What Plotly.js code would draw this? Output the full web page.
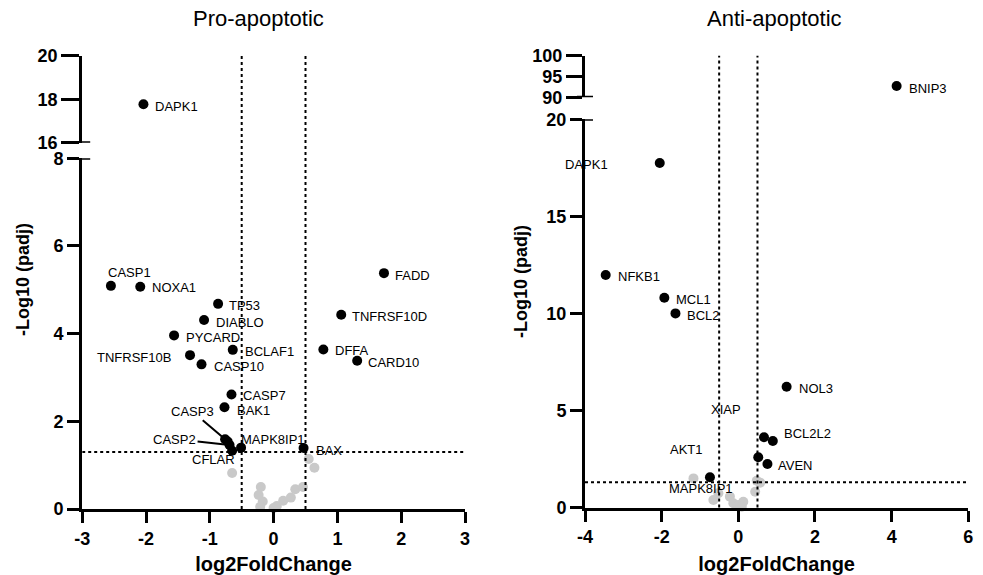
<!DOCTYPE html>
<html>
<head>
<meta charset="utf-8">
<script src="https://cdn.plot.ly/plotly-3.0.1.min.js"></script>
<style>html,body{margin:0;padding:0;background:#fff;}#chart{width:983px;height:575px;}</style>
</head>
<body>
<div id="chart"></div>
<script>
// ---------------- DATA ----------------
// Pro-apoptotic panel: significant genes (black) and non-significant (grey)
const proSigGenes = ['DAPK1','CASP1','NOXA1','TP53','DIABLO','PYCARD','BCLAF1','TNFRSF10B','CASP10','FADD','TNFRSF10D','DFFA','CARD10','CASP7','BAK1','CASP3','','CASP2','CFLAR','MAPK8IP1','BAX'];
const proSigFC    = [-2.04,-2.55,-2.09,-0.87,-1.09,-1.56,-0.64,-1.31,-1.13,1.73,1.06,0.78,1.31,-0.66,-0.77,-0.76,-0.72,-0.69,-0.65,-0.51,0.47];
const proSigP     = [17.77,5.09,5.07,4.68,4.31,3.96,3.63,3.51,3.30,5.38,4.43,3.64,3.38,2.61,2.32,1.59,1.54,1.46,1.33,1.40,1.39];
const proNsFC     = [0.55,0.64,-0.65,-0.20,-0.235,-0.17,-0.21,0.00,0.05,0.15,0.27,0.34,0.46];
const proNsP      = [1.14,0.94,0.82,0.50,0.32,0.17,0.05,0.02,0.07,0.19,0.26,0.45,0.50];

// Anti-apoptotic panel
const antiSigGenes = ['BNIP3','DAPK1','NFKB1','MCL1','BCL2','NOL3','','BCL2L2','XIAP','AVEN','AKT1'];
const antiSigFC    = [4.13,-2.05,-3.46,-1.93,-1.64,1.26,0.67,0.90,0.52,0.76,-0.74];
const antiSigP     = [92.7,17.75,11.98,10.81,10.00,6.22,3.62,3.43,2.59,2.24,1.56];
const antiNsGenes  = ['','','','','','MAPK8IP1','','','','',''];
const antiNsFC     = [-1.17,0.48,0.57,0.44,-0.65,-0.52,-0.22,-0.13,0.00,0.13,0.09];
const antiNsP      = [1.50,1.38,1.28,0.81,0.39,0.73,0.56,0.22,0.13,0.30,0.04];

// axis ticks / thresholds
const proXTicks = [-3,-2,-1,0,1,2,3];
const proLowTicks = [0,2,4,6,8];
const proHighTicks = [16,18,20];
const antiXTicks = [-4,-2,0,2,4,6];
const antiLowTicks = [0,5,10,15,20];
const antiHighTicks = [90,95,100];
const fcCut = 0.5;
const pCut = 1.3;

// ---------------- STYLE / LAYOUT ----------------
const W = 983, H = 575;
const FONT = 'Liberation Sans, Arial, Helvetica, sans-serif';
const px = v => v / W;
const py = v => 1 - v / H;

// label placement: [anchor, dx, dy] in pixels, or ['arrow', ax, ay]
const proLab = {
  DAPK1:['left',10,2], CASP1:['center',19,-13], NOXA1:['left',10,1], TP53:['left',9,2],
  DIABLO:['left',10,2], PYCARD:['left',10,2], BCLAF1:['left',10,2], TNFRSF10B:['right',-17,2],
  CASP10:['left',10,2], FADD:['left',9,2], TNFRSF10D:['left',9,2], DFFA:['left',10,1],
  CARD10:['left',9,2], CASP7:['left',10,1], BAK1:['left',11,3], CASP3:['arrow',-33,-28],
  CASP2:['arrow',-55,-6], CFLAR:['center',-19,9], MAPK8IP1:['left',-2,-8], BAX:['left',10,2]
};
const antiLab = {
  BNIP3:['left',10,2], DAPK1:['right',-50,2], NFKB1:['left',10,2], MCL1:['left',10,2],
  BCL2:['left',10,2], NOL3:['left',10,2], BCL2L2:['left',9,-7], AVEN:['left',9,1],
  XIAP:['center',-32,-48], AKT1:['center',-23,-28], MAPK8IP1:['center',-17,-5]
};

const panels = [
  {xa:'x', yl:'y', yh:'y2', xDom:[82.2,465], low:[509,158.3], high:[142.7,55.7], xr:[-3,3], lr:[0,8], hr:[16,20],
   xt:proXTicks, lt:proLowTicks, ht:proHighTicks, lowLen:12, highLen:18,
   sigG:proSigGenes, sigX:proSigFC, sigY:proSigP, nsG:proNsFC.map(()=> ''), nsX:proNsFC, nsY:proNsP, lab:proLab,
   title:'Pro-apoptotic', titleX:258, yTitleX:23, yTitleY:280},
  {xa:'x2', yl:'y3', yh:'y4', xDom:[585,968.3], low:[507.5,119.3], high:[97.3,55.7], xr:[-4,6], lr:[0,20], hr:[90,100],
   xt:antiXTicks, lt:antiLowTicks, ht:antiHighTicks, lowLen:12, highLen:16,
   sigG:antiSigGenes, sigX:antiSigFC, sigY:antiSigP, nsG:antiNsGenes, nsX:antiNsFC, nsY:antiNsP, lab:antiLab,
   title:'Anti-apoptotic', titleX:774, yTitleX:521, yTitleY:282}
];

const traces = [];
const annotations = [];
const shapes = [];
const layout = {
  width: W, height: H, autosize:false,
  margin:{l:0,r:0,t:0,b:0},
  paper_bgcolor:'#fff', plot_bgcolor:'rgba(0,0,0,0)',
  showlegend:false,
  font:{family:FONT, color:'#000'}
};

function axName(ref){ return ref === 'x' ? 'xaxis' : ref === 'y' ? 'yaxis' : (ref[0]+'axis'+ref.slice(1)); }

panels.forEach(p => {
  const tickFont = {family:FONT, size:18, color:'#000', weight:'bold'};
  layout[axName(p.xa)] = {
    domain:[px(p.xDom[0]), px(p.xDom[1])], range:p.xr, anchor:p.yl,
    tickvals:p.xt, ticktext:p.xt.map(v => String(v)), ticks:'outside', ticklen:11, tickwidth:3, tickcolor:'#000',
    showline:true, linewidth:3, linecolor:'#000', showgrid:false, zeroline:false,
    tickfont:tickFont,
    title:{text:'log2FoldChange', font:{family:FONT, size:20, color:'#000', weight:'bold'}, standoff:12}
  };
  layout[axName(p.yl)] = {
    domain:[py(p.low[0]), py(p.low[1])], range:p.lr, anchor:p.xa,
    tickvals:p.lt, ticktext:p.lt.map(v => String(v)), ticks:'outside', ticklen:p.lowLen, tickwidth:3, tickcolor:'#000',
    showline:true, linewidth:3, linecolor:'#000', showgrid:false, zeroline:false,
    tickfont:tickFont
  };
  layout[axName(p.yh)] = {
    domain:[py(p.high[0]), py(p.high[1])], range:p.hr, anchor:p.xa,
    tickvals:p.ht, ticktext:p.ht.map(v => String(v)), ticks:'outside', ticklen:p.highLen, tickwidth:3, tickcolor:'#000',
    showline:true, linewidth:3, linecolor:'#000', showgrid:false, zeroline:false,
    tickfont:tickFont
  };

  // split points between the lower and upper y-segments
  const split = (xs, ys, gs) => {
    const lo = {x:[],y:[],g:[]}, hi = {x:[],y:[],g:[]};
    xs.forEach((v,i) => { const t = ys[i] > p.lr[1] ? hi : lo; t.x.push(v); t.y.push(ys[i]); t.g.push(gs[i]); });
    return {lo, hi};
  };
  const ns = split(p.nsX, p.nsY, p.nsG);
  const sg = split(p.sigX, p.sigY, p.sigG);
  [[ns,'#c9c9c9'],[sg,'#000']].forEach(([set,col]) => {
    [['lo',p.yl],['hi',p.yh]].forEach(([k,yref]) => {
      if (!set[k].x.length) return;
      traces.push({type:'scatter', mode:'markers', x:set[k].x, y:set[k].y, xaxis:p.xa, yaxis:yref,
        marker:{size:10, color:col, line:{width:0}}, hoverinfo:'skip', cliponaxis:false});
      set[k].g.forEach((g,i) => {
        if (!g || !p.lab[g]) return;
        const L = p.lab[g];
        const base = {x:set[k].x[i], y:set[k].y[i], xref:p.xa, yref:yref, text:g,
          font:{family:FONT, size:13, color:'#000'}};
        if (L[0] === 'arrow') {
          annotations.push(Object.assign(base, {showarrow:true, ax:L[1], ay:L[2], arrowhead:0,
            arrowwidth:2, arrowcolor:'#000', standoff:0, startstandoff:0}));
        } else {
          annotations.push(Object.assign(base, {showarrow:false, xanchor:L[0], yanchor:'middle',
            xshift:L[1], yshift:-L[2]}));
        }
      });
    });
  });

  // threshold lines
  const dot = {color:'#000', width:2, dash:'dot'};
  [-fcCut, fcCut].forEach(v => shapes.push({type:'line', xref:p.xa, yref:'paper',
    x0:v, x1:v, y0:py(p.low[0]), y1:py(p.high[1]), line:dot}));
  shapes.push({type:'line', xref:p.xa, yref:p.yl, x0:p.xr[0], x1:p.xr[1], y0:pCut, y1:pCut, line:dot});

  // axis-break caps
  const ax0 = p.xDom[0];
  [[p.yl, p.lr[1]], [p.yh, p.hr[0]]].forEach(([yr, v]) => shapes.push({type:'line', xref:'paper', yref:yr,
    x0:px(ax0-8), x1:px(ax0+8), y0:v, y1:v, line:{color:'#000', width:3}}));

  // titles
  annotations.push({x:px(p.titleX), y:py(19), xref:'paper', yref:'paper', text:p.title, showarrow:false,
    xanchor:'center', yanchor:'middle', font:{family:FONT, size:22, color:'#000'}});
  annotations.push({x:px(p.yTitleX), y:py(p.yTitleY), xref:'paper', yref:'paper', text:'-Log10 (padj)',
    showarrow:false, textangle:-90, xanchor:'center', yanchor:'middle',
    font:{family:FONT, size:18, color:'#000', weight:'bold'}});
});

layout.annotations = annotations;
layout.shapes = shapes;

Plotly.newPlot('chart', traces, layout, {staticPlot:true, displayModeBar:false});
</script>
</body>
</html>
